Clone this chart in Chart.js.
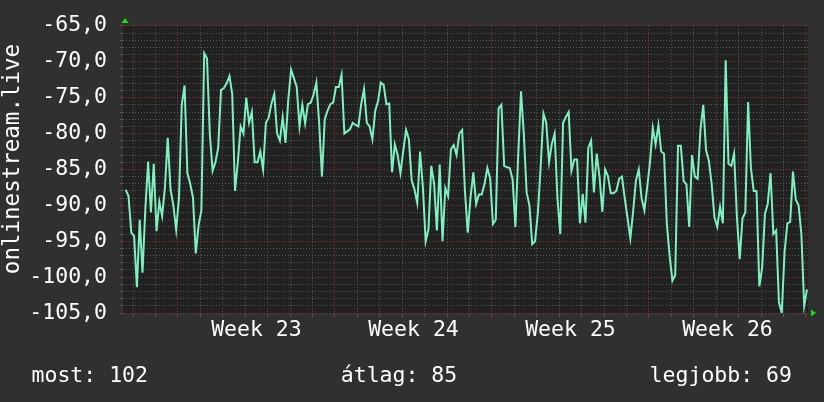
<!DOCTYPE html>
<html>
<head>
<meta charset="utf-8">
<title>onlinestream.live</title>
<script src="https://cdn.jsdelivr.net/npm/chart.js@4.4.1/dist/chart.umd.min.js"></script>
<style>
  html, body { margin: 0; padding: 0; background: #303030; }
  #wrap { width: 824px; height: 402px; }
</style>
</head>
<body>
<div id="wrap"><canvas id="signalChart" width="824" height="402"></canvas></div>
<script>
// Signal level, one sample every 3 hours (values in dBm-ish units)
const signalValues = [
    -87.8, -88.7, -93.8, -94.3, -101.4, -92, -99.4, -90.6, -83.9, -91,
    -84.2, -93.6, -89.5, -91.5, -87.5, -80.6, -87.8, -90, -93.4, -89,
    -76, -73.3, -85.5, -87, -88.9, -96.7, -92.8, -90.7, -68.8, -69.5,
    -80, -85.2, -84, -82, -73.9, -73.7, -73, -72, -74.5, -88,
    -84, -79, -80, -75, -78.5, -77, -84, -84, -82.5, -85,
    -78.5, -77.8, -75.8, -74.5, -80, -81, -77.7, -81.3, -75.2, -71.1,
    -72.3, -73.5, -79, -76, -78.6, -75.9, -75.7, -74.6, -72.9, -78.5,
    -86, -78, -76.8, -75.9, -75.7, -73.5, -73.5, -71.8, -80, -79.7,
    -79.4, -78.5, -78.8, -79, -75.9, -73.8, -78.5, -79, -80.8, -76.8,
    -75.5, -72.9, -73.2, -75.9, -75.8, -85.4, -81.5, -83, -85.5, -82.4,
    -79.5, -80.8, -86.5, -87.8, -89.7, -82.5, -87.5, -95, -93.3, -84.5,
    -87, -93.5, -84.3, -95, -87.6, -88.7, -82.2, -81.6, -83, -80,
    -79.5, -88, -93.8, -88.9, -85.4, -89.8, -88.5, -88.5, -87, -84.8,
    -86.3, -92.6, -92, -76.5, -76, -84.5, -84.7, -84.8, -86.4, -93,
    -83, -74.1, -80.1, -88.2, -90, -95.4, -95, -91.1, -84.7, -77.2,
    -78.5, -84, -81.4, -80, -89, -94, -78.5, -77.7, -77, -85.2,
    -83.6, -83.6, -92.5, -88.4, -92.4, -82, -81, -88.2, -82.8, -86,
    -90.9, -85, -85.9, -88.3, -88.3, -88, -86.3, -86, -89, -91.8,
    -94.6, -90.8, -86.5, -85, -89, -90.7, -87.5, -84, -79.2, -81.5,
    -78.8, -82.5, -82.8, -92.5, -97, -100.5, -99.7, -81.7, -81.7, -86.6,
    -87.1, -93, -83, -86, -86.3, -79.5, -76, -82.3, -83.8, -87,
    -91.7, -93, -90.2, -92.5, -69.8, -84.2, -84.5, -82.8, -91.6, -97.5,
    -91.8, -91, -75.6, -84.8, -88, -88, -101.3, -98.7, -91.2, -89.8,
    -85.5, -94, -93.5, -103.5, -105, -96.5, -92.5, -92.3, -85.3, -89.2,
    -90, -94, -104, -101.7
];

// time axis, in days from the left edge of the graph
const firstSampleDay = 0.12;
const sampleStepDays = 1 / 8;
const axisEndDay = 30.54;
const firstDayLine = 0.45;
const weekStartDays = [2.45, 9.45, 16.45, 23.45, 30.45];
const weekLabels = ['Week 23', 'Week 24', 'Week 25', 'Week 26'];

// value axis
const yMin = -105;
const yMax = -65;
const yLabelEvery = 5;

// summary line under the graph
const statNames = ['most', 'átlag', 'legjobb'];
const statValues = [102, 85, 69];
const axisTitle = 'onlinestream.live';

const FONT = "'DejaVu Sans Mono', 'Liberation Mono', monospace";
const MINOR = '#565656';
const MAJOR = '#8a3a3a';

const near = (a, b) => Math.abs(a - b) < 1e-6;
const isWeekStart = v => weekStartDays.some(w => near(w, v));
const weekCenters = weekLabels.map((_, i) => weekStartDays[i] + 3.5);
const labelFor = v => {
    const i = weekCenters.findIndex(c => near(c, v));
    return i >= 0 ? weekLabels[i] : '';
};

const points = signalValues.map((v, i) => ({ x: firstSampleDay + i * sampleStepDays, y: v }));

const decor = {
    id: 'decor',
    beforeDraw(chart) {
        const { ctx, chartArea: a } = chart;
        ctx.save();
        ctx.fillStyle = '#303030';
        ctx.fillRect(0, 0, chart.width, chart.height);
        ctx.fillStyle = '#212121';
        ctx.fillRect(a.left, a.top, a.right - a.left, a.bottom - a.top);
        ctx.restore();
    },
    afterDraw(chart) {
        const { ctx, chartArea: a } = chart;
        ctx.save();
        // little green arrows at the axis ends
        ctx.fillStyle = '#1fdc1f';
        ctx.beginPath();
        ctx.moveTo(a.left - 1.5, a.top - 3);
        ctx.lineTo(a.left + 5.5, a.top - 3);
        ctx.lineTo(a.left + 2, a.top - 8);
        ctx.closePath();
        ctx.fill();
        ctx.beginPath();
        ctx.moveTo(a.right + 3, a.bottom - 3.5);
        ctx.lineTo(a.right + 3, a.bottom + 3.5);
        ctx.lineTo(a.right + 8, a.bottom);
        ctx.closePath();
        ctx.fill();

        // vertical axis title
        ctx.fillStyle = '#ffffff';
        ctx.font = '22.5px ' + FONT;
        ctx.translate(18.5, 159);
        ctx.rotate(-Math.PI / 2);
        ctx.textAlign = 'center';
        ctx.textBaseline = 'alphabetic';
        ctx.fillText(axisTitle, 0, 0);
        ctx.setTransform(1, 0, 0, 1, 0, 0);

        // summary line
        ctx.font = '21.5px ' + FONT;
        ctx.textBaseline = 'alphabetic';
        const texts = statNames.map((n, i) => n + ': ' + statValues[i]);
        ctx.textAlign = 'left';
        ctx.fillText(texts[0], 31.5, 382);
        ctx.textAlign = 'center';
        ctx.fillText(texts[1], 399, 382);
        ctx.textAlign = 'right';
        ctx.fillText(texts[2], 792, 382);
        ctx.restore();
    }
};

new Chart(document.getElementById('signalChart'), {
    type: 'line',
    data: {
        datasets: [{
            data: points,
            borderColor: '#7ff0c2',
            borderWidth: 2,
            pointRadius: 0,
            tension: 0,
            fill: false
        }]
    },
    options: {
        responsive: false,
        animation: false,
        layout: { padding: { top: 16, right: 16, bottom: 59, left: 0 } },
        plugins: { legend: { display: false }, tooltip: { enabled: false } },
        scales: {
            x: {
                type: 'linear',
                min: 0,
                max: axisEndDay,
                afterBuildTicks(scale) {
                    const vals = [];
                    for (let d = firstDayLine; d <= axisEndDay; d += 1) vals.push(+d.toFixed(4));
                    weekCenters.forEach(c => vals.push(c));
                    vals.sort((p, q) => p - q);
                    scale.ticks = vals.map(v => ({ value: v }));
                },
                afterFit(scale) { scale.height = 30; },
                ticks: {
                    autoSkip: false,
                    maxRotation: 0,
                    minRotation: 0,
                    padding: 1,
                    color: '#ffffff',
                    font: { family: FONT, size: 21.5 },
                    callback: v => labelFor(v)
                },
                grid: {
                    tickLength: 4,
                    color: c => {
                        const v = c.tick ? c.tick.value : 0;
                        if (labelFor(v)) return 'rgba(0,0,0,0)';
                        return isWeekStart(v) ? MAJOR : MINOR;
                    }
                },
                border: { display: false, dash: [1, 2] }
            },
            y: {
                min: yMin,
                max: yMax,
                afterBuildTicks(scale) {
                    const vals = [];
                    for (let v = yMin; v <= yMax; v++) vals.push({ value: v });
                    scale.ticks = vals;
                },
                afterFit(scale) { scale.width = 123; },
                ticks: {
                    autoSkip: false,
                    padding: 13,
                    color: '#ffffff',
                    font: { family: FONT, size: 21.5 },
                    callback: v => (v % yLabelEvery === 0 ? v.toFixed(1).replace('.', ',') : '')
                },
                grid: {
                    tickLength: 3,
                    color: c => {
                        const v = c.tick ? c.tick.value : 0;
                        return v % yLabelEvery === 0 ? MAJOR : MINOR;
                    }
                },
                border: { display: false, dash: [1, 2] }
            }
        }
    },
    plugins: [decor]
});
</script>
</body>
</html>
